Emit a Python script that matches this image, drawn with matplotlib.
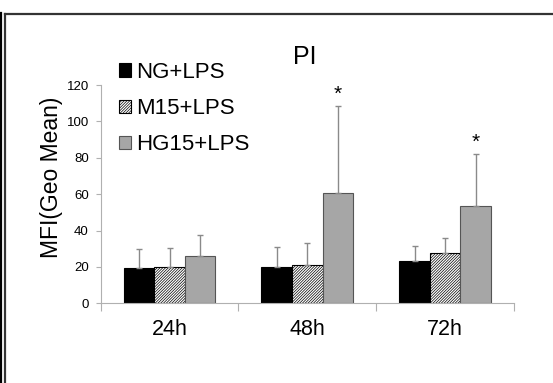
import numpy as np
import matplotlib
matplotlib.use("Agg")
import matplotlib.pyplot as plt
from matplotlib.lines import Line2D

# values (mean, upper SD)
categories = ["24h", "48h", "72h"]
series = ["NG+LPS", "M15+LPS", "HG15+LPS"]
ng_mean = [19.3, 19.8, 23.4]
ng_err = [10.4, 11.0, 8.3]
m15_mean = [19.8, 21.1, 27.5]
m15_err = [10.5, 11.9, 8.6]
hg15_mean = [26.0, 60.5, 53.7]
hg15_err = [11.4, 47.7, 28.1]
hg15_sig = ["", "*", "*"]
yticks = [0, 20, 40, 60, 80, 100, 120]

plt.rcParams["font.family"] = ["Liberation Sans", "DejaVu Sans"]
plt.rcParams["hatch.linewidth"] = 0.5

W, H = 553, 383
fig = plt.figure(figsize=(W / 100, H / 100), dpi=100)
ax = fig.add_axes([100.7 / W, 1 - 303.3 / H, 413.3 / W, 218.3 / H])

x = np.arange(len(categories))
bw = 0.222
axis_grey = "#b0b0b0"
err_kw = dict(ecolor="#8a8a8a", elinewidth=1.0, capsize=2.5, capthick=1.0)

b1 = ax.bar(x - bw, ng_mean, bw, color="black", edgecolor="black", lw=0.8,
            yerr=[np.zeros(3), ng_err], error_kw=err_kw, label=series[0])
b2 = ax.bar(x, m15_mean, bw, color="white", edgecolor="black", lw=0.8,
            hatch="/" * 12, yerr=[np.zeros(3), m15_err], error_kw=err_kw,
            label=series[1])
b3 = ax.bar(x + bw, hg15_mean, bw, color="#a6a6a6", edgecolor="#555555", lw=0.8,
            yerr=[np.zeros(3), hg15_err], error_kw=err_kw, label=series[2])

for xi, m, e, s in zip(x + bw, hg15_mean, hg15_err, hg15_sig):
    if s:
        ax.text(xi, m + e + 1.5, s, ha="center", va="bottom", fontsize=15)

ax.set_xlim(-0.5, len(categories) - 0.5)
ax.set_ylim(0, 120)
ax.set_yticks(yticks)
ax.tick_params(axis="y", length=3.5, width=0.8, color=axis_grey, labelsize=9.5, pad=5)

# labels in the middle, tick marks at category borders
ax.set_xticks(x)
ax.set_xticklabels(categories, fontsize=15.5)
ax.tick_params(axis="x", which="major", length=0, pad=11)
ax.set_xticks(np.arange(len(categories) + 1) - 0.5, minor=True)
ax.tick_params(axis="x", which="minor", length=6, width=0.8, color=axis_grey)

for s in ("top", "right"):
    ax.spines[s].set_visible(False)
for s in ("left", "bottom"):
    ax.spines[s].set_color(axis_grey)
    ax.spines[s].set_linewidth(0.8)

fig.text(52 / W, 1 - 177 / H, "MFI(Geo Mean)", rotation=90, ha="center",
         va="center", fontsize=16.5)
fig.text(305 / W, 1 - 57 / H, "PI", ha="center", va="center", fontsize=18)

fig.legend(handles=[b1, b2, b3], loc="upper left",
           bbox_to_anchor=(119 / W, 1 - 62 / H), frameon=False, fontsize=16,
           handlelength=0.55, handleheight=0.55, handletextpad=0.2,
           labelspacing=0.68, borderpad=0, borderaxespad=0)

# outer frame of the original slide
fig.add_artist(Line2D([4.5 / W, 1], [1 - 14 / H] * 2, transform=fig.transFigure,
                      color="#333333", lw=1.6))
fig.add_artist(Line2D([4.5 / W] * 2, [0, 1 - 14 / H], transform=fig.transFigure,
                      color="#333333", lw=1.6))
fig.add_artist(Line2D([0.8 / W] * 2, [0, 1 - 13 / H], transform=fig.transFigure,
                      color="black", lw=1.6))

fig.savefig("out.png", dpi=100)
